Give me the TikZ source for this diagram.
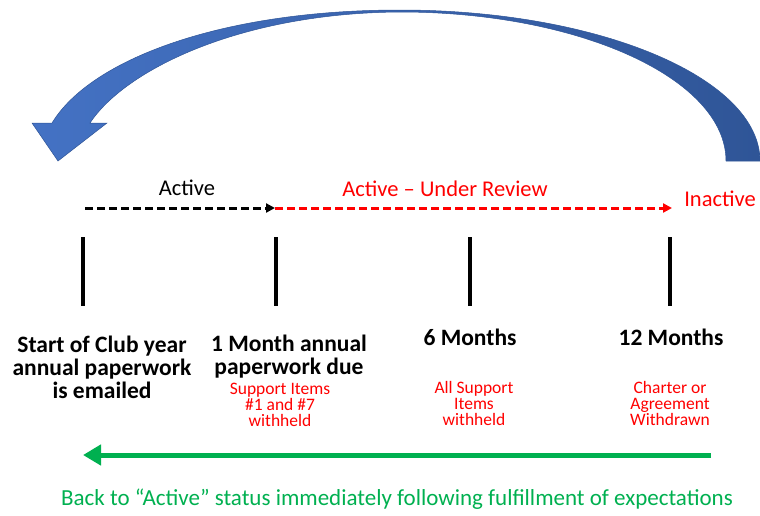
\documentclass[tikz,border=0pt]{standalone}
\usepackage{fontspec}
\setmainfont{Carlito}
\usetikzlibrary{arrows.meta}
\lineskiplimit=-20pt
\definecolor{loopleft}{HTML}{4472C4}
\definecolor{loopright}{HTML}{2F5597}
\definecolor{backgreen}{HTML}{00B050}
\tikzstyle{month}=[inner sep=0pt, anchor=base, align=center, font=\bfseries\fontsize{23.5}{23}\selectfont]
\tikzstyle{loss}=[inner sep=0pt, anchor=base, align=center, text=red, font=\fontsize{17.5}{16}\selectfont]
\tikzstyle{status}=[inner sep=0pt, anchor=base, font=\fontsize{22.5}{24}\selectfont]
\tikzstyle{tick}=[line width=4.5pt]
\tikzstyle{dashline}=[line width=3pt, dash pattern=on 8pt off 4pt, -{Triangle[length=9pt,width=9pt]}]
\tikzstyle{backarrow}=[draw=backgreen, line width=5pt, -{Triangle[length=18pt,width=20pt]}]
\begin{document}
\begin{tikzpicture}[x=1pt, y=-1pt]
	\useasboundingbox (0,0) rectangle (760,515);

	%The big return loop
	\shade[left color=loopleft, right color=loopright, draw=loopright, line width=0.5pt]
		(726,161) .. controls (726,79) and (580,12) .. (400,12)
		.. controls (240,13) and (125,70) .. (90,123)
		-- (107,123) -- (58,161) -- (32,123) -- (52,123)
		.. controls (90,60) and (220,10) .. (400,10)
		.. controls (599,10) and (760,78) .. (760,161) -- cycle;

	%The status labels
	\draw (187,195) node[status] (active) {Active};
	\draw (445,196) node[status, text=red] (review) {Active -- Under Review};
	\draw (720,206) node[status, text=red] (inactive) {Inactive};

	%The status arrows
	\coordinate (s0) at (85,208);
	\coordinate (s1) at (275,208);
	\coordinate (s2) at (672,208);
	\draw[dashline] (s0) -- (s1);
	\draw[dashline, red] (s1) -- (s2);

	%The time marks
	\draw[tick] (83,237) -- (83,306);
	\draw[tick] (276,237) -- (276,306);
	\draw[tick] (470,237) -- (470,306);
	\draw[tick] (670,237) -- (670,306);

	%The milestones (base is the last line)
	\draw (102,398) node[month] (start) {Start of Club year\\annual paperwork\\is emailed};
	\draw (289,374) node[month] (m1) {1 Month annual\\paperwork due};
	\draw (470,345) node[month] (m6) {6 Months};
	\draw (671,345) node[month] (m12) {12 Months};

	%What is lost at each milestone
	\draw (280,426) node[loss] (lost1) {Support Items\\\#1 and \#7\\withheld};
	\draw (474,425) node[loss] (lost6) {All Support\\Items\\withheld};
	\draw (670,425) node[loss] (lost12) {Charter or\\Agreement\\Withdrawn};

	%The way back
	\coordinate (g0) at (711,455);
	\coordinate (g1) at (83,455);
	\draw[backarrow] (g0) -- (g1);
	\draw (397,505) node[status, text=backgreen, font=\fontsize{23}{24}\selectfont] (back) {Back to “Active” status immediately following fulfillment of expectations};
\end{tikzpicture}
\end{document}
